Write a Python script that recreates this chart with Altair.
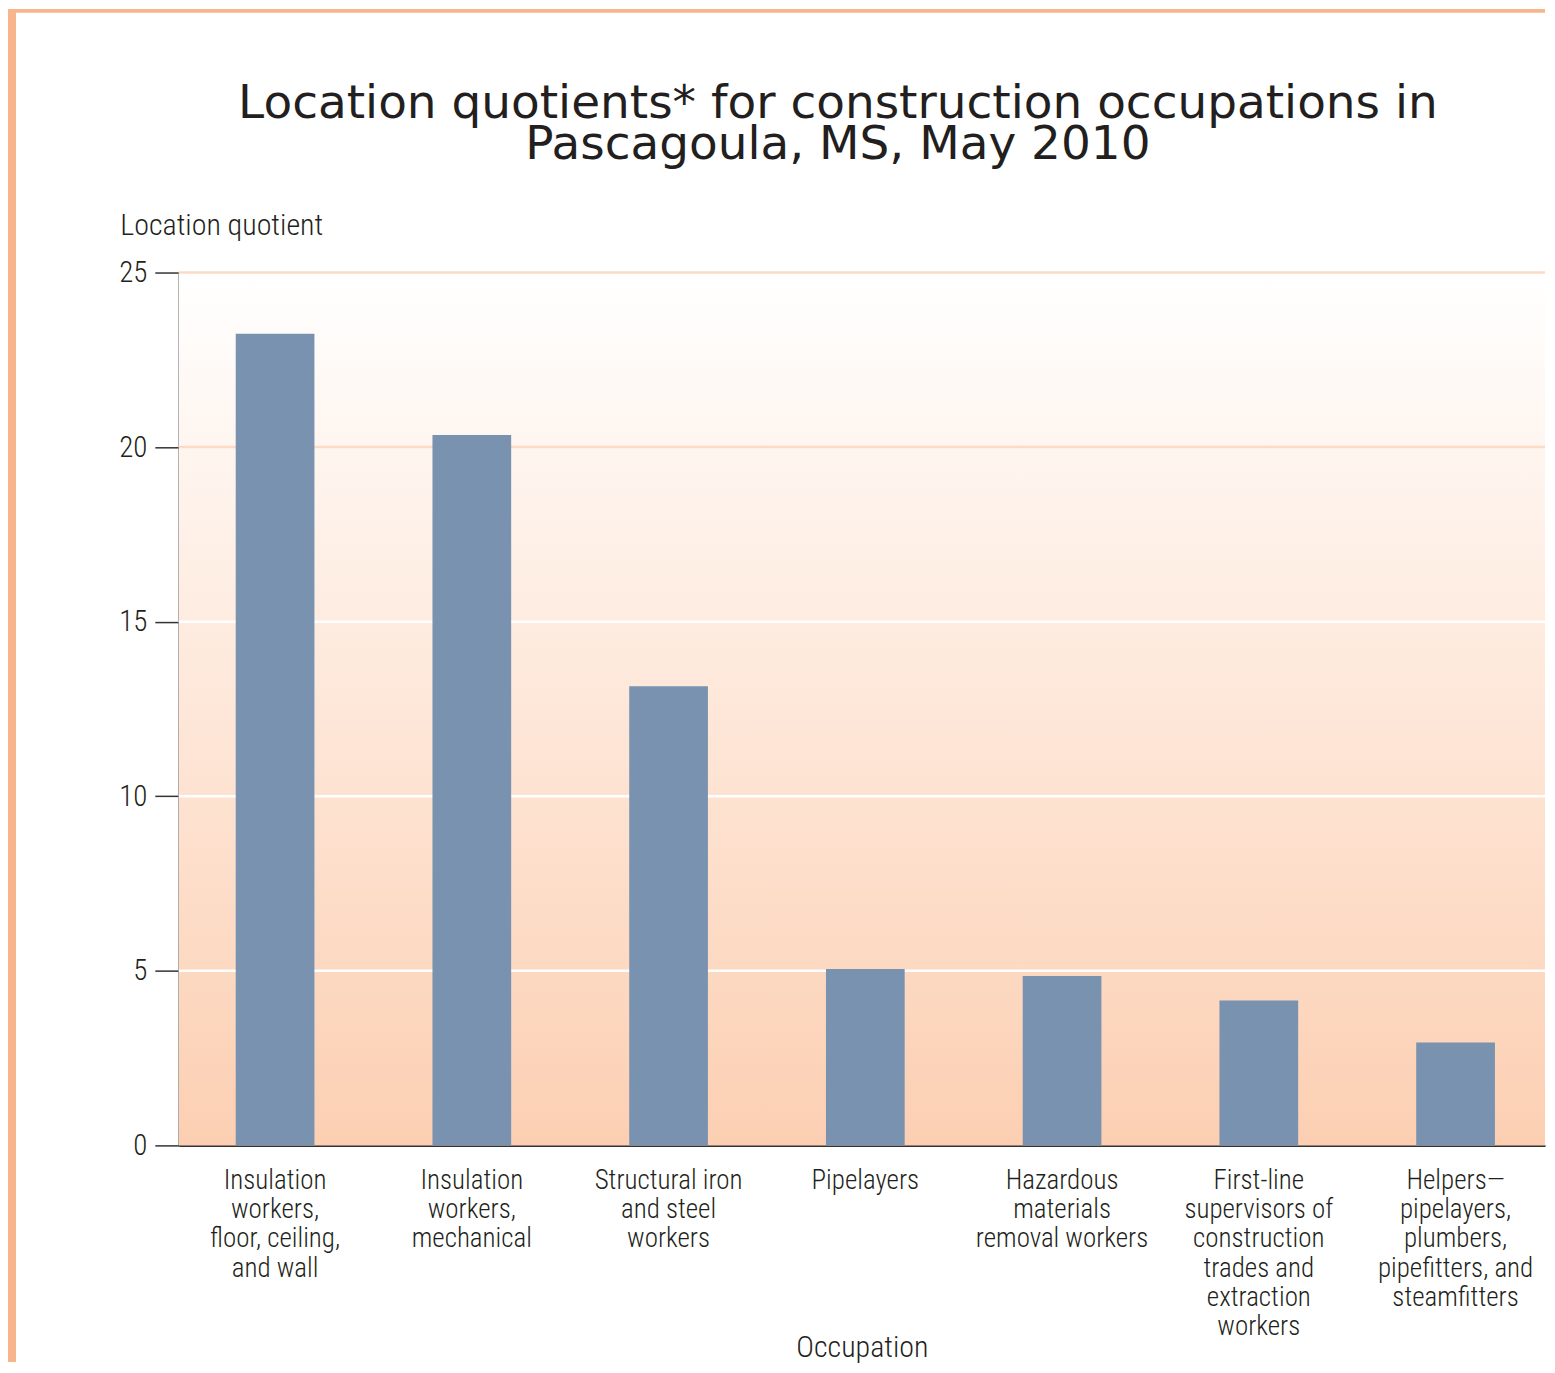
import altair as alt
import pandas as pd

# ---- data ----
categories = [
    "Insulation\nworkers,\nfloor, ceiling,\nand wall",
    "Insulation\nworkers,\nmechanical",
    "Structural iron\nand steel\nworkers",
    "Pipelayers",
    "Hazardous\nmaterials\nremoval workers",
    "First-line\nsupervisors of\nconstruction\ntrades and\nextraction\nworkers",
    "Helpers\u2014\npipelayers,\nplumbers,\npipefitters, and\nsteamfitters",
]
values = [23.25, 20.35, 13.15, 5.05, 4.85, 4.15, 2.95]
y_ticks = [0, 5, 10, 15, 20, 25]
grid_values = [5, 10, 15, 20, 25]
title_lines = ["Location quotients* for construction occupations in",
               "Pascagoula, MS, May 2010"]
y_title = "Location quotient"
x_title = "Occupation"

# ---- layout / style ----
W, H = 1368, 874
NARROW = "Roboto Condensed, Liberation Sans Narrow, Arial Narrow, sans-serif"
TXT = "#231F20"
ORANGE = "#F8B58C"
BAR = "#7892B0"
PEACH = "#FCCFB2"
GRID_PEACH = "#FDDAC4"

df = pd.DataFrame({"cat": categories, "val": values})
grid_df = pd.DataFrame({"v": grid_values})

yscale = alt.Scale(domain=[0, 25], nice=False, zero=True)
yaxis = alt.Axis(
    values=y_ticks, grid=False,
    domainColor="#333333", domainWidth=1.5,
    tickColor="#333333", tickWidth=1.5, tickSize=24,
    labelPadding=8, labelFont=NARROW, labelFontSize=29, labelFontWeight=300,
    labelColor=TXT,
    title=y_title, titleAngle=0, titleAlign="left", titleBaseline="alphabetic",
    titleX=-59, titleY=-38, titleFont=NARROW, titleFontSize=30,
    titleFontWeight=300, titleColor=TXT,
)
xaxis = alt.Axis(
    labelAngle=0, ticks=False, tickSize=0, grid=False,
    domainColor="#333333", domainWidth=2,
    labelExpr="split(datum.label, '\\n')",
    labelFont=NARROW, labelFontSize=27, labelFontWeight=300, labelColor=TXT,
    labelLineHeight=29.3,
    labelPadding=22, labelLimit=300, labelOverlap=False,
    title=x_title, titleFont=NARROW, titleFontSize=30, titleFontWeight=300,
    titleColor=TXT, titleY=211, titleBaseline="alphabetic",
)

one = alt.Data(values=[{}])

left_strip = alt.Chart(one).mark_rect(color=ORANGE).encode(
    x=alt.value(-171), x2=alt.value(-163), y=alt.value(-264), y2=alt.value(1091)
)
top_strip = alt.Chart(one).mark_rect(color=ORANGE).encode(
    x=alt.value(-171), x2=alt.value(W), y=alt.value(-264), y2=alt.value(-260)
)

gradient_bg = alt.Chart(one).mark_rect(
    color=alt.LinearGradient(
        gradient="linear",
        stops=[alt.GradientStop(color="#FFFFFF", offset=0),
               alt.GradientStop(color=PEACH, offset=1)],
        x1=0, x2=0, y1=0, y2=1,
    )
).encode(x=alt.value(0), x2=alt.value(W), y=alt.value(0), y2=alt.value(H))

grid = alt.Chart(grid_df).mark_rule(strokeWidth=2.5).encode(
    y=alt.Y("v:Q", scale=yscale, axis=yaxis),
    color=alt.condition(alt.datum.v >= 20, alt.value(GRID_PEACH), alt.value("#FFFFFF")),
)

bars = alt.Chart(df).mark_bar(color=BAR).encode(
    x=alt.X("cat:N", sort=categories,
            scale=alt.Scale(paddingInner=0.6, paddingOuter=0.272, align=0.532),
            axis=xaxis),
    y=alt.Y("val:Q", scale=yscale, axis=yaxis),
)

title = alt.Chart(one).mark_text(
    font="DejaVu Sans", fontSize=47, align="center", baseline="alphabetic",
    color=TXT, lineHeight=41,
).encode(x=alt.value(660), y=alt.value(-155), text=alt.value(title_lines))

chart = alt.layer(
    left_strip, top_strip, gradient_bg, grid, bars, title
).properties(
    width=W, height=H, padding=0, background="#FFFFFF"
).configure_view(stroke=None)

chart.save("out.html", embed_options={"renderer": "svg", "actions": False})
